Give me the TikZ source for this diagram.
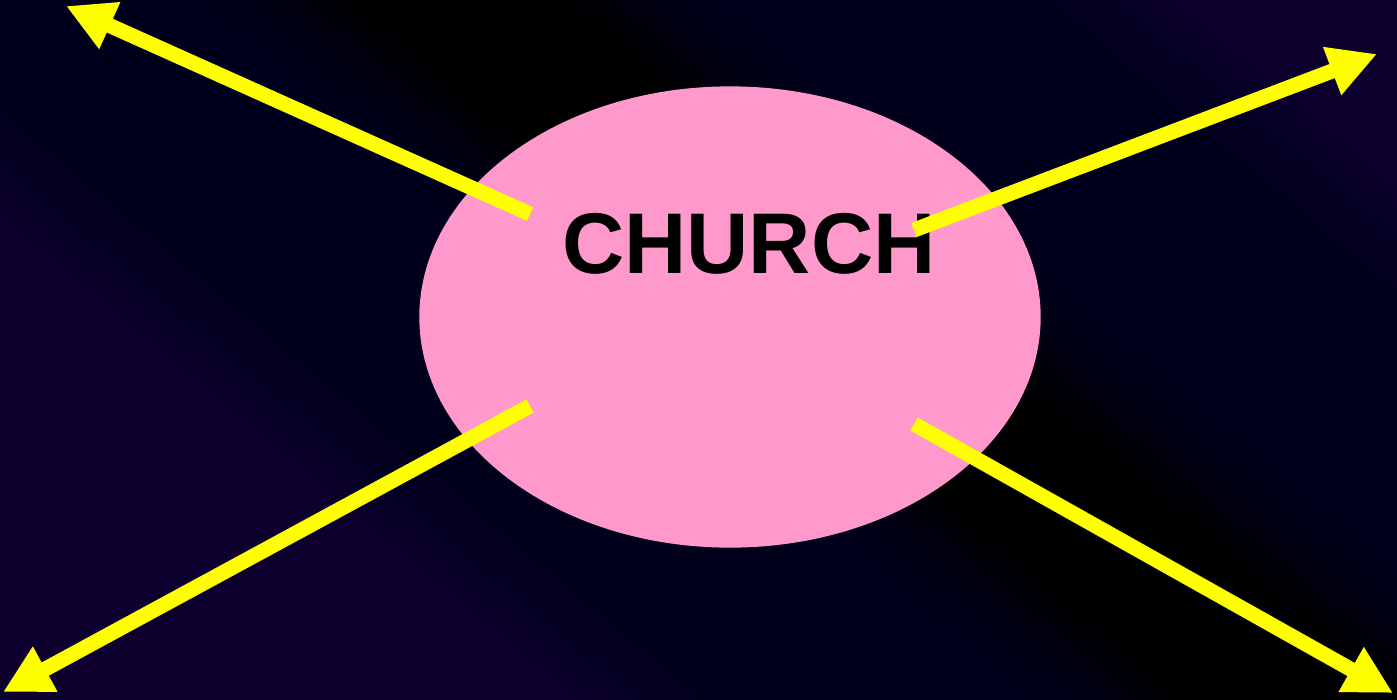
\documentclass[tikz,border=0pt]{standalone}
\usepackage{fontspec}
\setmainfont{Liberation Sans}
\usepackage{xcolor}
\usepackage{tikz}
\usetikzlibrary{arrows.meta, positioning, shapes.geometric, calc}

\definecolor{bgnavy}{RGB}{0,0,28}
\definecolor{bgpurple}{RGB}{14,0,46}
\definecolor{churchpink}{RGB}{255,153,204}
\definecolor{arrowyellow}{RGB}{255,255,0}

\begin{document}
\begin{tikzpicture}[
      x=0.01cm, y=0.01cm,
      bigarrow/.style={draw=arrowyellow, line width=0.15cm, -{Triangle[length=0.48cm, width=0.48cm]}},
      churchbox/.style={ellipse, fill=churchpink, minimum width=6.21cm, minimum height=4.61cm, inner sep=0pt},
      title/.style={font=\fontsize{24.5}{29}\selectfont\bfseries, inner sep=0pt}
    ]
      \useasboundingbox (0,0) rectangle (1397,699);
      % background bands
      \begin{scope}
        \clip (0,0) rectangle (1397,699);
        \foreach \d in {-900,-880,...,700} {
          \pgfmathsetmacro\pa{min(100,max(0,abs(\d+10)-60))}
          \pgfmathsetmacro\pb{min(100,max(0,abs(\d+10)-380))}
          \colorlet{bandmid}{bgnavy!\pa!black}
          \colorlet{bandcol}{bgpurple!\pb!bandmid}
          \fill[bandcol, rotate around={-40:(875,350)}] (-700,350+\d) rectangle (2500,371+\d);
        }
      \end{scope}
      \node[churchbox] (church) at (730,382) {};
      \node[title] (name) at (749,455) {CHURCH};
      % arrow ends
      \coordinate (nwtail) at (530,485);
      \coordinate (nwtip) at (66,693);
      \coordinate (netail) at (914,469);
      \coordinate (netip) at (1377,645);
      \coordinate (swtail) at (530,293);
      \coordinate (swtip) at (3,7);
      \coordinate (setail) at (914,275);
      \coordinate (setip) at (1393,6);
      \draw[bigarrow] (nwtail) -- (nwtip);
      \draw[bigarrow] (netail) -- (netip);
      \draw[bigarrow] (swtail) -- (swtip);
      \draw[bigarrow] (setail) -- (setip);
    \end{tikzpicture}
\end{document}
